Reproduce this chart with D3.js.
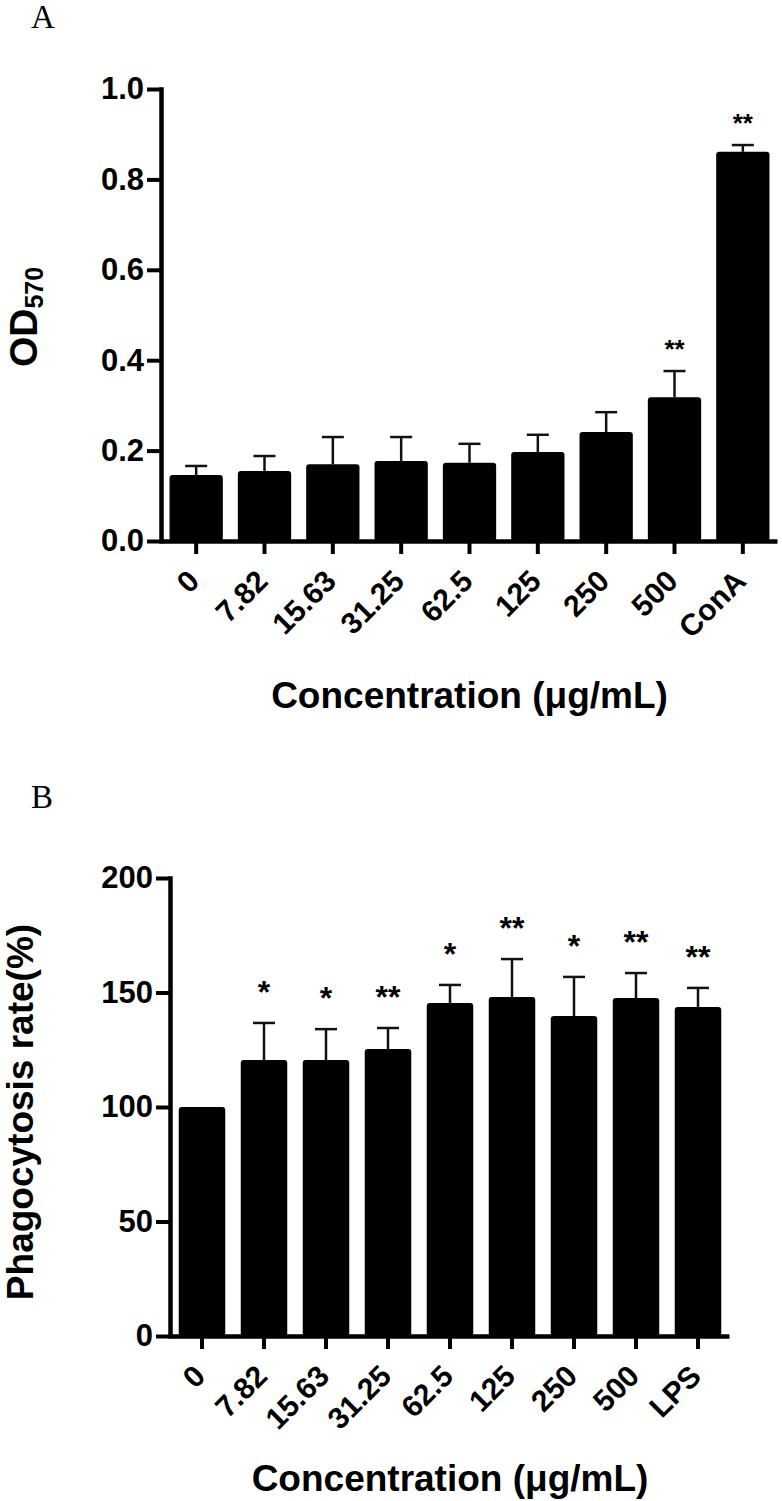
<!DOCTYPE html>
<html>
<head>
<meta charset="utf-8">
<script src="https://cdn.jsdelivr.net/npm/d3@7"></script>
<style>
body { margin: 0; background: #fff; }
text { font-family: "Liberation Sans", Arial, sans-serif; }
</style>
</head>
<body>
<script>
// panel A: OD570
var catsA  = ["0", "7.82", "15.63", "31.25", "62.5", "125", "250", "500", "ConA"];
var meanA  = [0.146, 0.155, 0.170, 0.177, 0.173, 0.197, 0.241, 0.318, 0.861];
var sdA    = [0.020, 0.033, 0.060, 0.053, 0.042, 0.038, 0.044, 0.058, 0.015];
var sigA   = ["", "", "", "", "", "", "", "**", "**"];
var ticksA = [0, 0.2, 0.4, 0.6, 0.8, 1.0];

// panel B: phagocytosis rate
var catsB  = ["0", "7.82", "15.63", "31.25", "62.5", "125", "250", "500", "LPS"];
var meanB  = [100, 120.5, 120.5, 125.3, 145.4, 148, 139.7, 147.6, 143.7];
var sdB    = [0, 16.2, 13.5, 9.2, 7.9, 16.6, 17.1, 10.9, 8.3];
var sigB   = ["", "*", "*", "**", "*", "**", "*", "**", "**"];
var ticksB = [0, 50, 100, 150, 200];

var width  = 782,
    height = 1501;

const svg = d3.select("body")
    .append("svg")
    .attr("width", width)
    .attr("height", height);

function drawPanel(p) {
    var g = svg.append("g");

    var x = d3.scaleBand()
        .domain(p.cats)
        .range(p.xRange)
        .paddingInner(p.padIn)
        .paddingOuter(p.padOut);

    var y = d3.scaleLinear()
        .domain([0, p.ticks[p.ticks.length - 1]])
        .range(p.yRange);

    var data = p.cats.map((c, i) => ({
        cat: c, mean: p.means[i], sd: p.sds[i], sig: p.sigs[i]
    }));

    // bars
    g.append("g")
        .selectAll("rect")
        .data(data)
        .join("rect")
        .attr("x", d => x(d.cat))
        .attr("y", d => y(d.mean))
        .attr("width", x.bandwidth())
        .attr("height", d => y(0) - y(d.mean))
        .attr("rx", 3)
        .attr("fill", "#000");

    // error bars, upper half only
    var eb = g.append("g")
        .selectAll("g")
        .data(data.filter(d => d.sd > 0))
        .join("g")
        .attr("stroke", "#111")
        .attr("stroke-width", 2.5);
    eb.append("line")
        .attr("x1", d => x(d.cat) + x.bandwidth() / 2)
        .attr("x2", d => x(d.cat) + x.bandwidth() / 2)
        .attr("y1", d => y(d.mean))
        .attr("y2", d => y(d.mean + d.sd));
    eb.append("line")
        .attr("x1", d => x(d.cat) + x.bandwidth() / 2 - p.cap)
        .attr("x2", d => x(d.cat) + x.bandwidth() / 2 + p.cap)
        .attr("y1", d => y(d.mean + d.sd))
        .attr("y2", d => y(d.mean + d.sd));

    // significance stars
    g.append("g")
        .selectAll("text")
        .data(data.filter(d => d.sig))
        .join("text")
        .attr("x", d => x(d.cat) + x.bandwidth() / 2)
        .attr("y", d => y(d.mean + d.sd) - p.starGap)
        .attr("text-anchor", "middle")
        .style("font-size", p.starSize + "px")
        .style("font-weight", "bold")
        .text(d => d.sig);

    // y axis
    var yAxis = g.append("g")
        .attr("transform", `translate(${p.xRange[0] - 1},0)`)
        .call(d3.axisLeft(y).tickValues(p.ticks).tickFormat(p.fmt)
            .tickSize(14).tickSizeOuter(0).tickPadding(3));
    yAxis.select(".domain").attr("stroke-width", 4.5).attr("stroke-linecap", "square");
    yAxis.selectAll(".tick line").attr("stroke-width", 4);
    yAxis.selectAll(".tick text")
        .style("font-size", "31px")
        .style("font-weight", "bold")
        .attr("fill", "#000");

    // x axis
    var xAxis = g.append("g")
        .attr("transform", `translate(0,${y(0)})`)
        .call(d3.axisBottom(x).tickSize(13).tickSizeOuter(0).tickPadding(0));
    xAxis.select(".domain").attr("stroke-width", 4.5);
    xAxis.selectAll(".tick line").attr("stroke-width", 4);
    xAxis.selectAll(".tick text")
        .attr("y", 0)
        .attr("dy", 0)
        .attr("text-anchor", "end")
        .attr("transform", "translate(5,42) rotate(-45)")
        .style("font-size", "30px")
        .style("font-weight", "bold")
        .attr("fill", "#000");

    // x title
    g.append("text")
        .attr("x", (p.xRange[0] + p.xRange[1]) / 2)
        .attr("y", p.xTitleY)
        .attr("text-anchor", "middle")
        .style("font-size", "37px")
        .style("font-weight", "bold")
        .text("Concentration (μg/mL)");

    // panel letter
    g.append("text")
        .attr("x", 31)
        .attr("y", p.letterY)
        .style("font-family", "'Liberation Serif', 'Times New Roman', serif")
        .style("font-size", "33px")
        .text(p.letter);

    return g;
}

var gA = drawPanel({
    cats: catsA, means: meanA, sds: sdA, sigs: sigA, ticks: ticksA,
    fmt: d3.format(".1f"),
    xRange: [162, 777], yRange: [541, 89],
    padIn: 0.22, padOut: 0.11, cap: 11,
    starSize: 26, starGap: 13,
    xTitleY: 708, letter: "A", letterY: 28
});

var ytA = gA.append("text")
    .attr("transform", "translate(37,317) rotate(-90)")
    .attr("text-anchor", "middle")
    .style("font-size", "39px")
    .style("font-weight", "bold");
ytA.append("tspan").text("OD");
ytA.append("tspan").attr("dy", 6).style("font-size", "25px").text("570");

var gB = drawPanel({
    cats: catsB, means: meanB, sds: sdB, sigs: sigB, ticks: ticksB,
    fmt: d3.format("d"),
    xRange: [171, 729], yRange: [1336, 878],
    padIn: 0.25, padOut: 0.125, cap: 11,
    starSize: 32, starGap: 20,
    xTitleY: 1491, letter: "B", letterY: 808
});

gB.append("text")
    .attr("transform", "translate(33,1112) rotate(-90)")
    .attr("text-anchor", "middle")
    .style("font-size", "37px")
    .style("font-weight", "bold")
    .text("Phagocytosis rate(%)");
</script>
</body>
</html>
